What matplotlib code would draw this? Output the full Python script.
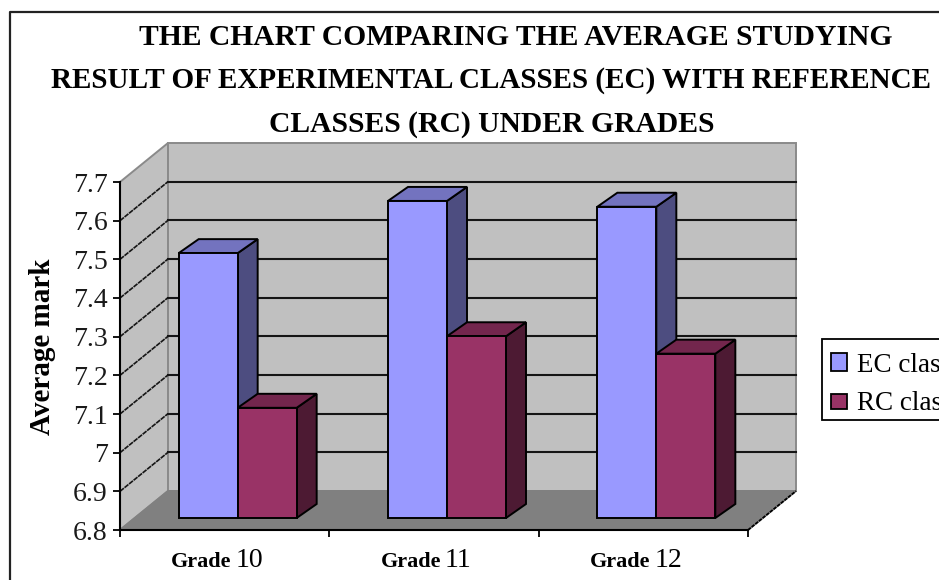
import numpy as np
import matplotlib
matplotlib.use('Agg')
import matplotlib.pyplot as plt
from matplotlib.patches import Polygon, Rectangle

title_lines = ["THE CHART COMPARING THE AVERAGE STUDYING",
               "RESULT OF EXPERIMENTAL CLASSES (EC) WITH REFERENCE",
               "CLASSES (RC) UNDER GRADES"]
grades = ['Grade 10', 'Grade 11', 'Grade 12']
ec_class = [7.485, 7.62, 7.605]
rc_class = [7.085, 7.27, 7.225]
y_ticks = [6.8, 6.9, 7.0, 7.1, 7.2, 7.3, 7.4, 7.5, 7.6, 7.7]
y_labels = ['6.8', '6.9', '7', '7.1', '7.2', '7.3', '7.4', '7.5', '7.6', '7.7']

W, H = 939, 580
plt.rcParams['font.family'] = ['Liberation Serif', 'DejaVu Serif']

fig = plt.figure(figsize=(W / 100, H / 100), dpi=100)
# axes box is the front plane of the old 3d excel chart
ax = fig.add_axes([120 / W, 1 - 530 / H, 628 / W, 348 / H])
ax.set_xlim(0, 3)
ax.set_ylim(6.8, 7.7)
ax.patch.set_alpha(0)

# pixel sizes of the fake depth, turned into data units
ux = 3 / 628
uy = 0.9 / 348
DX, DY = 48 * ux, 39 * uy


def face(pts, color, ec='black', lw=1.4, z=3):
    ax.add_patch(Polygon(pts, closed=True, fc=color, ec=ec, lw=lw, zorder=z, clip_on=False))


# walls and floor
face([(0, 6.8), (DX, 6.8 + DY), (DX, 7.7 + DY), (0, 7.7)], '#c0c0c0', ec='#8a8a8a', z=1)
face([(DX, 6.8 + DY), (3 + DX, 6.8 + DY), (3 + DX, 7.7 + DY), (DX, 7.7 + DY)], '#c0c0c0', ec='#8a8a8a', z=1)
face([(0, 6.8), (3, 6.8), (3 + DX, 6.8 + DY), (DX, 6.8 + DY)], '#808080', ec='#808080', z=1)
ax.plot([3, 3 + DX], [6.8, 6.8 + DY], color='black', lw=1.3, ls=(0, (2, 0.6)), zorder=2, clip_on=False)

# gridlines, wall side (thin, looks dashed) and back
for v in y_ticks[1:-1]:
    ax.plot([0, DX], [v, v + DY], color='#151515', lw=1.2, ls=(0, (3, 0.5)), zorder=2, clip_on=False)
    ax.plot([DX, 3 + DX], [v + DY, v + DY], color='#151515', lw=1.5, zorder=2, clip_on=False)

# bars, each drawn as front / side / top faces
bar_w = 59 * ux
off_x, off_y = 13 * ux, 12 * uy
dep_x, dep_y = 20 * ux, 14 * uy


def bar3d(x0, val, c_front, c_side, c_top):
    x0 = x0 + off_x
    x1 = x0 + bar_w
    y0 = 6.8 + off_y
    y1 = val + off_y
    face([(x1, y0), (x1 + dep_x, y0 + dep_y), (x1 + dep_x, y1 + dep_y), (x1, y1)], c_side)
    face([(x0, y1), (x1, y1), (x1 + dep_x, y1 + dep_y), (x0 + dep_x, y1 + dep_y)], c_top)
    face([(x0, y0), (x1, y0), (x1, y1), (x0, y1)], c_front)


centers = np.arange(len(grades)) + 0.5
for i, c in enumerate(centers):
    bar3d(c - bar_w, ec_class[i], '#9999ff', '#4d4d80', '#7373bf')
    bar3d(c, rc_class[i], '#993366', '#4d1a33', '#73264d')

# axes
for s in ['top', 'right']:
    ax.spines[s].set_visible(False)
ax.spines['left'].set_linewidth(1.5)
ax.spines['bottom'].set_linewidth(1.5)
ax.set_yticks(y_ticks)
ax.set_yticklabels(y_labels, fontsize=20, color='#1a1a1a')
ax.set_xticks([0, 1, 2, 3])
ax.set_xticklabels([])
ax.tick_params(axis='both', length=5, width=1.3)
ax.tick_params(axis='y', pad=4)

# grade labels, number part is not bold in the original
for c, g in zip(centers, grades):
    word, num = g.split()
    ax.annotate(word, (c, 6.8), xytext=(7, -37), textcoords='offset pixels', ha='right', va='baseline',
                fontsize=16, fontweight='bold', annotation_clip=False)
    ax.annotate(num, (c, 6.8), xytext=(11, -37), textcoords='offset pixels', ha='left', va='baseline',
                fontsize=20, annotation_clip=False)

# legend box runs off the right edge, frame of the picture too
lax = fig.add_axes([0, 0, 1, 1])
lax.set_xlim(0, W)
lax.set_ylim(H, 0)
lax.axis('off')
lax.patch.set_alpha(0)

title_x = [516, 491, 492]
title_y = [45, 88, 132]
title_size = [21.3, 21, 21.3]
for line, tx, ty, ts in zip(title_lines, title_x, title_y, title_size):
    lax.text(tx, ty, line, ha='center', va='baseline', fontsize=ts, fontweight='bold')
lax.text(43, 347, 'Average mark', rotation=90, ha='center', va='center', fontsize=21, fontweight='bold')

lax.add_patch(Rectangle((822, 339), 130, 81, fc='white', ec='black', lw=1.3))
lax.add_patch(Rectangle((831, 353), 16, 18, fc='#9999ff', ec='black', lw=1.3))
lax.add_patch(Rectangle((831, 394), 16, 15, fc='#993366', ec='black', lw=1.3))
lax.text(857, 372, 'EC class', fontsize=19.5, va='baseline')
lax.text(857, 410, 'RC class', fontsize=19.5, va='baseline')
lax.plot([10, 10, W], [H, 11.5, 11.5], color='#222222', lw=1.6)

fig.savefig('out.png', dpi=100)
